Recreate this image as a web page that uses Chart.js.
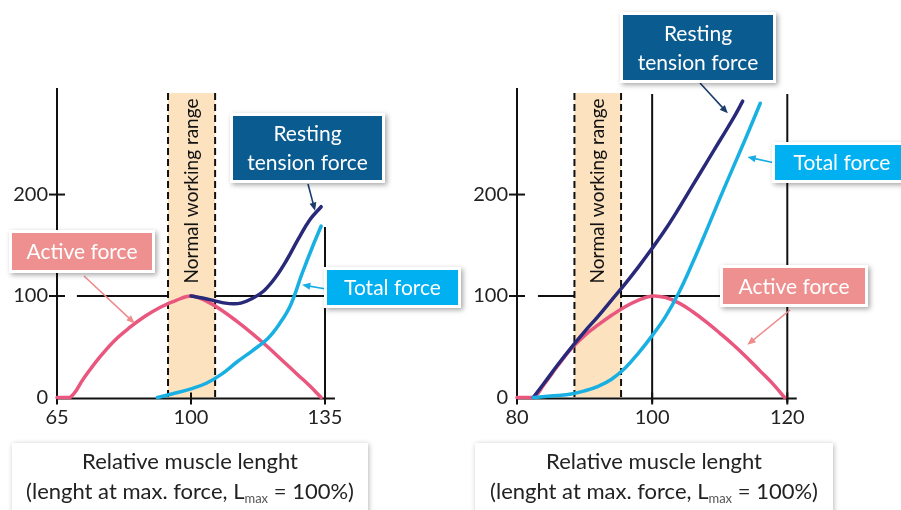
<!DOCTYPE html>
<html>
<head>
<meta charset="utf-8">
<script src="https://cdn.jsdelivr.net/npm/chart.js@4.4.1/dist/chart.umd.min.js"></script>
<style>
  html, body { margin:0; padding:0; background:#fff; width:901px; height:510px; overflow:hidden; font-family:'Lato', sans-serif; }
  .cw { position:absolute; top:0; }
  .xlab { position:absolute; top:443px; height:80px; background:#fff; box-shadow:1px 1px 5px rgba(0,0,0,0.28);
          color:#222; font-size:22px; text-align:center; line-height:30px; padding-top:3px; box-sizing:border-box; }
  .xlab sub { font-size:13px; vertical-align:-4px; line-height:0; color:#555; }
</style>
</head>
<body>
<div class="cw" style="left:0;width:470px;height:440px"><canvas id="cL" width="470" height="440"></canvas></div>
<div class="cw" style="left:450px;width:451px;height:440px"><canvas id="cR" width="451" height="440"></canvas></div>
<div class="xlab" style="left:12px;width:356px">Relative muscle lenght<br>(lenght at max. force, L<sub>max</sub> = 100%)</div>
<div class="xlab" style="left:475px;width:358px">Relative muscle lenght<br>(lenght at max. force, L<sub>max</sub> = 100%)</div>
<script>
// ---------- DATA ----------
const yTicks = [0, 100, 200];
const xTicksL = [65, 100, 135];
const xTicksR = [80, 100, 120];

// Left panel
const activeX_L = [65, 68.4, 72, 76, 80, 84, 88, 92, 96, 100, 104, 108, 112, 116, 120, 124, 128, 131, 134];
const activeY_L = [0, 0, 19, 39, 56, 69, 80, 89, 95.5, 100, 95, 86, 75, 63, 50, 36, 22, 11.5, 0];
const restX_L = [100, 103, 106, 109, 111, 113, 116, 119, 122, 125, 128, 131, 134];
const restY_L = [100, 98, 95.5, 93, 92.3, 93, 97.5, 105, 118, 135.5, 156, 175, 188];
const totX_L = [91.2, 95, 100, 104, 108, 112, 116, 120, 123, 126, 129, 132, 134];
const totY_L = [0, 3.5, 8.5, 14, 23, 35, 46, 58, 72, 91, 122, 151, 169];

// Right panel
const activeX_R = [80, 82.4, 84, 86, 88, 90, 92, 94, 96, 98, 100, 102, 104, 106, 108, 110, 112, 114, 116, 118, 119.6];
const activeY_R = [0, 0, 13, 31, 48, 61, 71.5, 81, 89.5, 96, 100, 98.5, 93, 84.5, 74.5, 63.5, 52, 39.5, 26, 12.5, 0];
const restX_R = [82.4, 84, 86, 88, 90, 92, 94, 96, 98, 100, 102, 104, 106, 108, 110, 112, 113.4];
const restY_R = [0, 14, 32, 49, 65, 80, 96, 112, 129, 147, 166, 187, 209, 231, 253, 275, 292];
const totX_R = [82.4, 86, 88, 90, 92, 94, 96, 98, 100, 102, 104, 106, 108, 110, 112, 114, 116];
const totY_R = [0, 2, 3.5, 6.5, 11, 18, 29, 44, 61, 80, 104, 133, 164, 196, 227, 258, 290];

// Normal working range (x)
const bandL = [94.0, 106.3];
const bandR = [88.5, 95.4];

// ---------- STYLE ----------
const FONT = 'Lato';
const C_ACTIVE = '#e9567e', C_REST = '#29297a', C_TOTAL = '#18b0e3';
const BOX_ACTIVE = '#ee9090', BOX_REST = '#0a5b90', BOX_TOTAL = '#00b0f0';

function pts(xs, ys) { return xs.map((x, i) => ({ x, y: ys[i] })); }
function ds(xs, ys, color) {
  return { data: pts(xs, ys), borderColor: color, borderWidth: 3.5, pointRadius: 0,
           tension: 0.4, fill: false, clip: false, borderCapStyle: 'round', borderJoinStyle: 'round' };
}

function drawBox(ctx, b) {
  ctx.save();
  ctx.shadowColor = 'rgba(0,0,0,0.35)'; ctx.shadowBlur = 5; ctx.shadowOffsetX = 2; ctx.shadowOffsetY = 2;
  ctx.fillStyle = '#fff';
  ctx.fillRect(b.x - 3, b.y - 3, b.w + 6, b.h + 6);
  ctx.restore();
  ctx.fillStyle = b.color;
  ctx.fillRect(b.x, b.y, b.w, b.h);
  ctx.fillStyle = '#fff';
  ctx.font = '21px ' + FONT;
  ctx.textAlign = 'center'; ctx.textBaseline = 'middle';
  const n = b.lines.length, lh = 29;
  b.lines.forEach((t, i) => ctx.fillText(t, b.x + b.w / 2, b.y + b.h / 2 + (i - (n - 1) / 2) * lh + 1));
}

function drawArrow(ctx, x1, y1, x2, y2, color) {
  ctx.save();
  ctx.strokeStyle = color; ctx.fillStyle = color; ctx.lineWidth = 1.6;
  const a = Math.atan2(y2 - y1, x2 - x1), L = 9;
  ctx.beginPath(); ctx.moveTo(x1, y1); ctx.lineTo(x2 - Math.cos(a) * 3, y2 - Math.sin(a) * 3); ctx.stroke();
  ctx.beginPath();
  ctx.moveTo(x2, y2);
  ctx.lineTo(x2 - L * Math.cos(a - 0.4), y2 - L * Math.sin(a - 0.4));
  ctx.lineTo(x2 - L * Math.cos(a + 0.4), y2 - L * Math.sin(a + 0.4));
  ctx.closePath(); ctx.fill();
  ctx.restore();
}

function makePlugin(cfg) {
  return {
    id: 'deco',
    beforeDatasetsDraw(chart) {
      const { ctx, scales: { x, y } } = chart;
      ctx.save();
      ctx.strokeStyle = '#111'; ctx.lineWidth = 2; ctx.setLineDash([]);
      // reference lines
      cfg.hLines.forEach(h => {
        ctx.beginPath(); ctx.moveTo(x.getPixelForValue(h.from), y.getPixelForValue(h.y));
        ctx.lineTo(x.getPixelForValue(h.to), y.getPixelForValue(h.y)); ctx.stroke();
      });
      cfg.vLines.forEach(v => {
        ctx.beginPath(); ctx.moveTo(x.getPixelForValue(v.x), y.getPixelForValue(v.from) + 5);
        ctx.lineTo(x.getPixelForValue(v.x), y.getPixelForValue(v.to)); ctx.stroke();
      });
      // band
      const bx1 = x.getPixelForValue(cfg.band[0]), bx2 = x.getPixelForValue(cfg.band[1]);
      const by1 = y.getPixelForValue(300), by2 = y.getPixelForValue(0);
      ctx.fillStyle = '#fde2bf';
      ctx.fillRect(bx1, by1, bx2 - bx1, by2 - by1);
      ctx.setLineDash([7, 4]);
      [bx1, bx2].forEach(px => { ctx.beginPath(); ctx.moveTo(px, by1); ctx.lineTo(px, by2); ctx.stroke(); });
      ctx.setLineDash([]);
      // band text
      ctx.save();
      ctx.translate((bx1 + bx2) / 2, 191);
      ctx.rotate(-Math.PI / 2);
      ctx.fillStyle = '#111'; ctx.font = '19px ' + FONT;
      ctx.textAlign = 'center'; ctx.textBaseline = 'middle';
      ctx.fillText('Normal working range', 0, 0);
      ctx.restore();
      // axes
      const x0 = x.getPixelForValue(x.min), y0 = y.getPixelForValue(0);
      ctx.beginPath(); ctx.moveTo(x0, y.getPixelForValue(y.max)); ctx.lineTo(x0, y0 + 3); ctx.stroke();
      ctx.beginPath(); ctx.moveTo(x0, y0 + 1); ctx.lineTo(x.getPixelForValue(cfg.xEnd), y0 + 1); ctx.stroke();
      // tick marks
      yTicks.forEach(v => {
        if (v === 0) return;
        const py = y.getPixelForValue(v);
        ctx.beginPath(); ctx.moveTo(x0 - 8, py); ctx.lineTo(x0 + 8, py); ctx.stroke();
      });
      cfg.xTicks.forEach(v => {
        const px = x.getPixelForValue(v);
        ctx.beginPath(); ctx.moveTo(px, y0 - 5); ctx.lineTo(px, y0 + 7); ctx.stroke();
      });
      ctx.restore();
    },
    afterDatasetsDraw(chart) {
      const { ctx, scales: { x, y } } = chart;
      cfg.boxes.forEach(b => {
        drawArrow(ctx, b.tail[0], b.tail[1], x.getPixelForValue(b.tip[0]), y.getPixelForValue(b.tip[1]), b.arrow);
        drawBox(ctx, b);
      });
    }
  };
}

function makeChart(id, cfg) {
  return new Chart(document.getElementById(id), {
    type: 'line',
    data: { datasets: [
      ds(cfg.tot[0], cfg.tot[1], C_TOTAL),
      ds(cfg.rest[0], cfg.rest[1], C_REST),
      ds(cfg.act[0], cfg.act[1], C_ACTIVE)
    ] },
    options: {
      responsive: false, animation: false, devicePixelRatio: 1,
      layout: { padding: { left: 0, top: 88, right: cfg.padRight, bottom: 2.5 } },
      plugins: { legend: { display: false }, tooltip: { enabled: false } },
      scales: {
        x: { type: 'linear', min: cfg.xMin, max: cfg.xMax,
             afterBuildTicks: s => { s.ticks = cfg.xTicks.map(v => ({ value: v })); },
             afterFit: s => { s.height = 40; },
             ticks: { autoSkip: false, maxRotation: 0, padding: 2, color: '#222', font: { family: FONT, size: 20 } },
             grid: { display: false, drawTicks: true, tickLength: 6 }, border: { display: false } },
        y: { min: 0, max: 305,
             afterBuildTicks: s => { s.ticks = yTicks.map(v => ({ value: v })); },
             afterFit: s => { s.width = cfg.yW; },
             ticks: { padding: 1, color: '#222', font: { family: FONT, size: 20 } },
             grid: { display: false, drawTicks: true, tickLength: 8 }, border: { display: false } }
      }
    },
    plugins: [makePlugin(cfg)]
  });
}

makeChart('cL', {
  xMin: 65, xMax: 135, xTicks: xTicksL, yW: 57, padRight: 145, xEnd: 137.6,
  act: [activeX_L, activeY_L], rest: [restX_L, restY_L], tot: [totX_L, totY_L],
  band: bandL,
  hLines: [{ y: 100, from: 70.2, to: 135 }],
  vLines: [{ x: 135, from: 0, to: 168 }],
  boxes: [
    { x: 12, y: 233, w: 140, h: 37, color: BOX_ACTIVE, lines: ['Active force'], tail: [84, 276], tip: [85.3, 73], arrow: '#ef8c8c' },
    { x: 233, y: 116, w: 149, h: 64, color: BOX_REST, lines: ['Resting', 'tension force'], tail: [308, 184], tip: [132.4, 184], arrow: '#1c3c6c' },
    { x: 327, y: 270, w: 131, h: 35, color: BOX_TOTAL, lines: ['Total force'], tail: [326, 289], tip: [129, 111], arrow: '#18ade6' }
  ]
});

makeChart('cR', {
  xMin: 80, xMax: 120, xTicks: xTicksR, yW: 67, padRight: 113.7, xEnd: 121.4,
  act: [activeX_R, activeY_R], rest: [restX_R, restY_R], tot: [totX_R, totY_R],
  band: bandR,
  hLines: [{ y: 100, from: 83.1, to: 120 }],
  vLines: [{ x: 100, from: 0, to: 299 }, { x: 120, from: 0, to: 299 }],
  boxes: [
    { x: 173, y: 15, w: 150, h: 65, color: BOX_REST, lines: ['Resting', 'tension force'], tail: [250, 83], tip: [111.2, 280], arrow: '#1c3c6c' },
    { x: 325, y: 145, w: 134, h: 35, color: BOX_TOTAL, lines: ['Total force'], tail: [325, 163], tip: [114.1, 237], arrow: '#18ade6' },
    { x: 273, y: 268, w: 142, h: 36, color: BOX_ACTIVE, lines: ['Active force'], tail: [340, 310], tip: [114.1, 52], arrow: '#ef8c8c' }
  ]
});
</script>
</body>
</html>
